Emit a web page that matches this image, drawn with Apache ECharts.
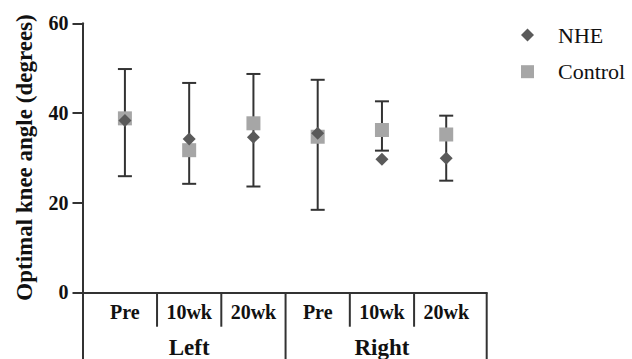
<!DOCTYPE html>
<html><head><meta charset="utf-8">
<script src="https://cdn.jsdelivr.net/npm/echarts@6/dist/echarts.min.js"></script>
<style>html,body{margin:0;padding:0;background:#fff}#c{width:632px;height:359px}</style>
</head><body><div id="c"></div>
<script>
// ---- data ----
const categories = ['Pre', '10wk', '20wk', 'Pre', '10wk', '20wk'];
const groups = ['Left', 'Right'];
const groupCenterIndex = [1, 4];
const nheValues = [38.3, 34.2, 34.6, 35.5, 29.7, 29.9];
const controlValues = [38.8, 31.7, 37.7, 34.7, 36.2, 35.2];
const errLow = [25.9, 24.2, 23.6, 18.4, 31.6, 24.9];
const errHigh = [49.8, 46.7, 48.7, 47.4, 42.6, 39.4];
const yTicks = [0, 20, 40, 60];

// ---- layout ----
const FONT = "'Liberation Serif', 'Times New Roman', serif";
const XMIN = -0.66, XMAX = 5.63, YMIN = -20, YMAX = 60;
const LABEL_Y = -4.33, GROUP_Y = -12.4, SHORT_DIV_Y = -7.67;
const INK = '#111';
const LINE = '#333';

const shortDividers = [0.5, 1.5, 3.5, 4.5].map(x => [x, 0, SHORT_DIV_Y]);
const longDividers = [2.5, XMAX].map(x => [x, 0, YMIN]);

const chart = echarts.init(document.getElementById('c'), null, {renderer: 'svg'});

function lineItem(params, api) {
  const p1 = api.coord([api.value(0), api.value(1)]);
  const p2 = api.coord([api.value(0), api.value(2)]);
  return {type: 'line', shape: {x1: p1[0], y1: p1[1], x2: p2[0], y2: p2[1]},
          style: {stroke: LINE, lineWidth: 2}};
}

chart.setOption({
  animation: false,
  grid: {left: 82.5, width: 404.2, top: 23.3, height: 358.7, containLabel: false,
         outerBoundsMode: 'none'},
  xAxis: {
    type: 'value', min: XMIN, max: XMAX,
    axisLine: {show: true, onZero: true, lineStyle: {color: LINE, width: 2}},
    axisTick: {show: false}, axisLabel: {show: false}, splitLine: {show: false}
  },
  yAxis: {
    type: 'value', min: YMIN, max: YMAX, interval: 20,
    axisLine: {show: true, onZero: false, lineStyle: {color: LINE, width: 2}},
    axisTick: {show: true, length: 10, lineStyle: {color: LINE, width: 2}},
    axisLabel: {
      margin: 14, color: INK, fontFamily: FONT, fontWeight: 'bold', fontSize: 20,
      formatter: v => (yTicks.indexOf(v) >= 0 ? String(v) : '')
    },
    splitLine: {show: false}
  },
  legend: {
    orient: 'vertical', left: 521, top: 24, padding: 0,
    itemWidth: 13, itemHeight: 13, itemGap: 14.7,
    textStyle: {fontFamily: FONT, fontSize: 22, color: INK, padding: [0, 0, 0, 19]},
    data: [{name: 'NHE', icon: 'diamond'}, {name: 'Control', icon: 'rect'}]
  },
  graphic: [{
    type: 'text', x: 24, y: 157.5, rotation: Math.PI / 2,
    style: {text: 'Optimal knee angle (degrees)', font: 'bold 23px ' + FONT,
            fill: INK, align: 'center', verticalAlign: 'middle'}
  }],
  series: [
    {
      type: 'custom', name: 'errorbars', silent: true, z: 1,
      data: categories.map((c, i) => [i, errLow[i], errHigh[i]]),
      renderItem: (params, api) => {
        const x = api.value(0);
        const lo = api.coord([x, api.value(1)]);
        const hi = api.coord([x, api.value(2)]);
        const hw = 7;
        const st = {stroke: LINE, lineWidth: 2};
        return {type: 'group', children: [
          {type: 'line', shape: {x1: lo[0], y1: lo[1], x2: hi[0], y2: hi[1]}, style: st},
          {type: 'line', shape: {x1: lo[0] - hw, y1: lo[1], x2: lo[0] + hw, y2: lo[1]}, style: st},
          {type: 'line', shape: {x1: hi[0] - hw, y1: hi[1], x2: hi[0] + hw, y2: hi[1]}, style: st}
        ]};
      }
    },
    {
      type: 'scatter', name: 'Control', symbol: 'rect', symbolSize: 14, z: 2,
      itemStyle: {color: '#a6a6a6', opacity: 1},
      data: controlValues.map((v, i) => [i, v])
    },
    {
      type: 'scatter', name: 'NHE', symbol: 'diamond', symbolSize: 13, z: 3,
      itemStyle: {color: '#5a5a5a', opacity: 1},
      data: nheValues.map((v, i) => [i, v])
    },
    {type: 'custom', name: 'shortDiv', silent: true, data: shortDividers, renderItem: lineItem},
    {type: 'custom', name: 'longDiv', silent: true, data: longDividers, renderItem: lineItem},
    {
      type: 'custom', name: 'catLabels', silent: true,
      data: categories.map((c, i) => [i, LABEL_Y]),
      renderItem: (params, api) => {
        const p = api.coord([api.value(0), api.value(1)]);
        return {type: 'text', x: p[0], y: p[1],
                style: {text: categories[params.dataIndex], font: 'bold 20px ' + FONT,
                        fill: INK, align: 'center', verticalAlign: 'middle'}};
      }
    },
    {
      type: 'custom', name: 'groupLabels', silent: true,
      data: groups.map((g, k) => [groupCenterIndex[k], GROUP_Y]),
      renderItem: (params, api) => {
        const p = api.coord([api.value(0), api.value(1)]);
        return {type: 'text', x: p[0], y: p[1],
                style: {text: groups[params.dataIndex], font: 'bold 23px ' + FONT,
                        fill: INK, align: 'center', verticalAlign: 'middle'}};
      }
    }
  ]
});
</script>
</body></html>
